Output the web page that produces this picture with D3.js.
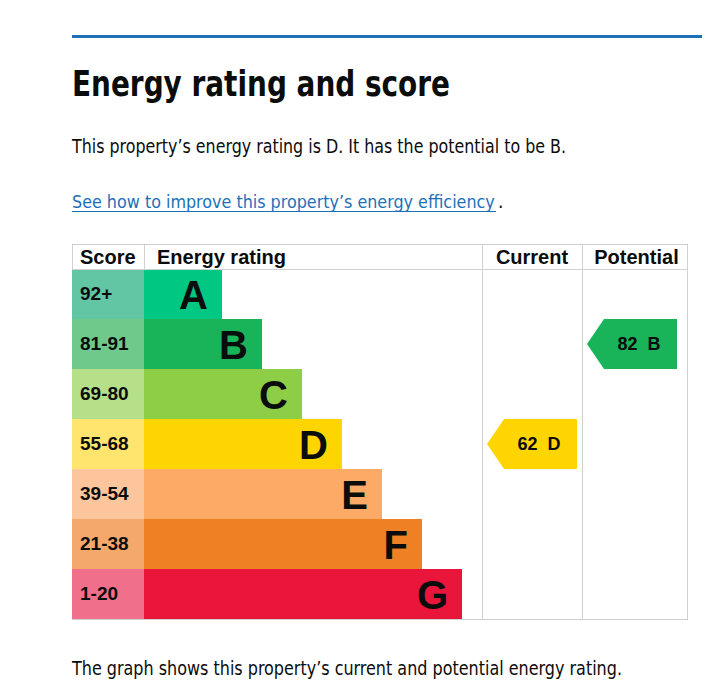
<!DOCTYPE html>
<html>
<head>
<meta charset="utf-8">
<script src="https://cdn.jsdelivr.net/npm/d3@7"></script>
<style>
  html, body { margin: 0; padding: 0; background: #fff; }
  svg { display: block; }
</style>
</head>
<body>
<div id="chart"></div>
<script>
// ---- data ----
const bands = ["A", "B", "C", "D", "E", "F", "G"];
const scoreRanges = ["92+", "81-91", "69-80", "55-68", "39-54", "21-38", "1-20"];
const barUnits = [2, 3, 4, 5, 6, 7, 8];
const bandColors = ["#00c781", "#19b459", "#8dce46", "#ffd500", "#fcaa65", "#ef8023", "#e9153b"];
const scoreColors = ["#62c6a4", "#6fc98b", "#b6df89", "#ffe46d", "#fdc59b", "#f4a86b", "#f06f8a"];
const columnHeaders = ["Score", "Energy rating", "Current", "Potential"];
const ratings = [
  { column: "Current", score: 62, band: "D" },
  { column: "Potential", score: 82, band: "B" }
];
const titleText = "Energy rating and score";
const introText = "This property\u2019s energy rating is D. It has the potential to be B.";
const linkText = "See how to improve this property\u2019s energy efficiency";
const footText = "The graph shows this property\u2019s current and potential energy rating.";

// ---- layout ----
const W = 715, H = 688;
const svg = d3.select("#chart").append("svg").attr("width", W).attr("height", H);
const txtFont = "'Liberation Sans Narrow', 'DejaVu Sans Condensed', 'Liberation Sans', Arial, sans-serif";
const tblFont = "'Liberation Sans', Arial, sans-serif";

// scale a text's font size so that its natural width matches a target width
function fitWidth(sel, baseSize, width) {
  sel.attr("font-size", baseSize);
  const n = sel.node().getComputedTextLength();
  if (n > 0) sel.attr("font-size", baseSize * width / n);
  return sel;
}

// top rule
svg.append("rect").attr("x", 72).attr("y", 35).attr("width", 630).attr("height", 3).attr("fill", "#1d70b8");

svg.append("text").attr("x", 72).attr("y", 96)
  .attr("font-family", txtFont).attr("font-weight", 700).attr("font-size", 36)
  .attr("fill", "#0b0c0c").attr("textLength", 378).attr("lengthAdjust", "spacingAndGlyphs")
  .text(titleText);

svg.append("text").attr("x", 72).attr("y", 153)
  .attr("font-family", txtFont).attr("font-size", 19)
  .attr("fill", "#0b0c0c").attr("textLength", 494).attr("lengthAdjust", "spacingAndGlyphs")
  .text(introText);

const link = svg.append("text").attr("x", 72).attr("y", 208)
  .attr("font-family", txtFont).attr("fill", "#1d70b8")
  .text(linkText);
fitWidth(link, 19, 423);
svg.append("rect").attr("x", 72).attr("y", 211).attr("width", 424).attr("height", 1).attr("fill", "#1d70b8");
svg.append("text").attr("x", 498).attr("y", 208)
  .attr("font-family", txtFont).attr("font-size", 19).attr("fill", "#0b0c0c").text(".");

svg.append("text").attr("x", 72).attr("y", 675)
  .attr("font-family", txtFont).attr("font-size", 19)
  .attr("fill", "#0b0c0c").attr("textLength", 550).attr("lengthAdjust", "spacingAndGlyphs")
  .text(footText);

// ---- table / chart ----
const tTop = 244, headH = 25, tBottom = 619;
const colEdges = [72, 144, 482, 582, 687];
const arrowW = 90;
const y = d3.scaleBand().domain(bands).range([tTop + headH, tBottom]);
const x = d3.scaleLinear().domain([0, 8]).range([142, 462]);
const colX = d3.scaleOrdinal().domain(columnHeaders).range(colEdges.slice(0, 4));
const colW = d3.scaleOrdinal().domain(columnHeaders).range(colEdges.slice(1).map((e, i) => e - colEdges[i]));

const g = svg.append("g");

// score cells
g.selectAll("rect.score").data(bands).join("rect").attr("class", "score")
  .attr("x", colEdges[0]).attr("y", d => y(d))
  .attr("width", colEdges[1] - colEdges[0]).attr("height", y.bandwidth())
  .attr("fill", (d, i) => scoreColors[i]);
g.selectAll("text.score").data(bands).join("text").attr("class", "score")
  .attr("x", 80).attr("y", d => y(d) + 31)
  .attr("font-family", tblFont).attr("font-weight", 700).attr("font-size", 19)
  .attr("fill", "#0b0c0c")
  .text((d, i) => scoreRanges[i]);

// bars
g.selectAll("rect.bar").data(bands).join("rect").attr("class", "bar")
  .attr("x", colEdges[1]).attr("y", d => y(d))
  .attr("width", (d, i) => x(barUnits[i]) - colEdges[1]).attr("height", y.bandwidth())
  .attr("fill", (d, i) => bandColors[i]);
g.selectAll("text.bar").data(bands).join("text").attr("class", "bar")
  .attr("x", (d, i) => x(barUnits[i]) - 14).attr("y", d => y(d) + 40)
  .attr("text-anchor", "end")
  .attr("font-family", tblFont).attr("font-weight", 700).attr("font-size", 40)
  .attr("fill", "#0b0c0c")
  .text(d => d);

// grid lines
const gridColor = "#cfd0d1";
const lines = [
  [72, tTop + 0.5, 687, tTop + 0.5],
  [72, tTop + headH + 0.5, 687, tTop + headH + 0.5],
  [72, tBottom + 0.5, 687, tBottom + 0.5],
  [72.5, tTop, 72.5, tTop + headH],
  [144.5, tTop, 144.5, tTop + headH],
  [482.5, tTop, 482.5, tBottom],
  [582.5, tTop, 582.5, tBottom],
  [687.5, tTop, 687.5, tBottom + 1]
];
g.selectAll("line.grid").data(lines).join("line").attr("class", "grid")
  .attr("x1", d => d[0]).attr("y1", d => d[1]).attr("x2", d => d[2]).attr("y2", d => d[3])
  .attr("stroke", gridColor).attr("stroke-width", 1);

// headers
g.selectAll("text.head").data(columnHeaders).join("text").attr("class", "head")
  .attr("x", (d, i) => i === 0 ? 80 : (i === 1 ? 157 : colX(d) + colW(d) / 2 + (i === 3 ? 2 : 0)))
  .attr("y", tTop + 20)
  .attr("text-anchor", (d, i) => i < 2 ? "start" : "middle")
  .attr("font-family", tblFont).attr("font-weight", 700).attr("font-size", 20)
  .attr("fill", "#0b0c0c")
  .text(d => d);

// rating arrows
const arrow = (x0, y0, w, h) => {
  const p = d3.path();
  p.moveTo(x0, y0 + h / 2);
  p.lineTo(x0 + h / 2 - 8, y0);
  p.lineTo(x0 + w, y0);
  p.lineTo(x0 + w, y0 + h);
  p.lineTo(x0 + h / 2 - 8, y0 + h);
  p.closePath();
  return p.toString();
};
const rg = g.selectAll("g.rating").data(ratings).join("g").attr("class", "rating");
rg.append("path")
  .attr("d", d => arrow(colX(d.column) + 5, y(d.band), arrowW, y.bandwidth()))
  .attr("fill", d => bandColors[bands.indexOf(d.band)]);
rg.append("text")
  .attr("x", d => colX(d.column) + 5 + 52)
  .attr("y", d => y(d.band) + 31)
  .attr("text-anchor", "middle")
  .attr("font-family", tblFont).attr("font-weight", 700).attr("font-size", 18)
  .attr("fill", "#0b0c0c")
  .style("white-space", "pre")
  .text(d => d.score + "  " + d.band);
</script>
</body>
</html>
